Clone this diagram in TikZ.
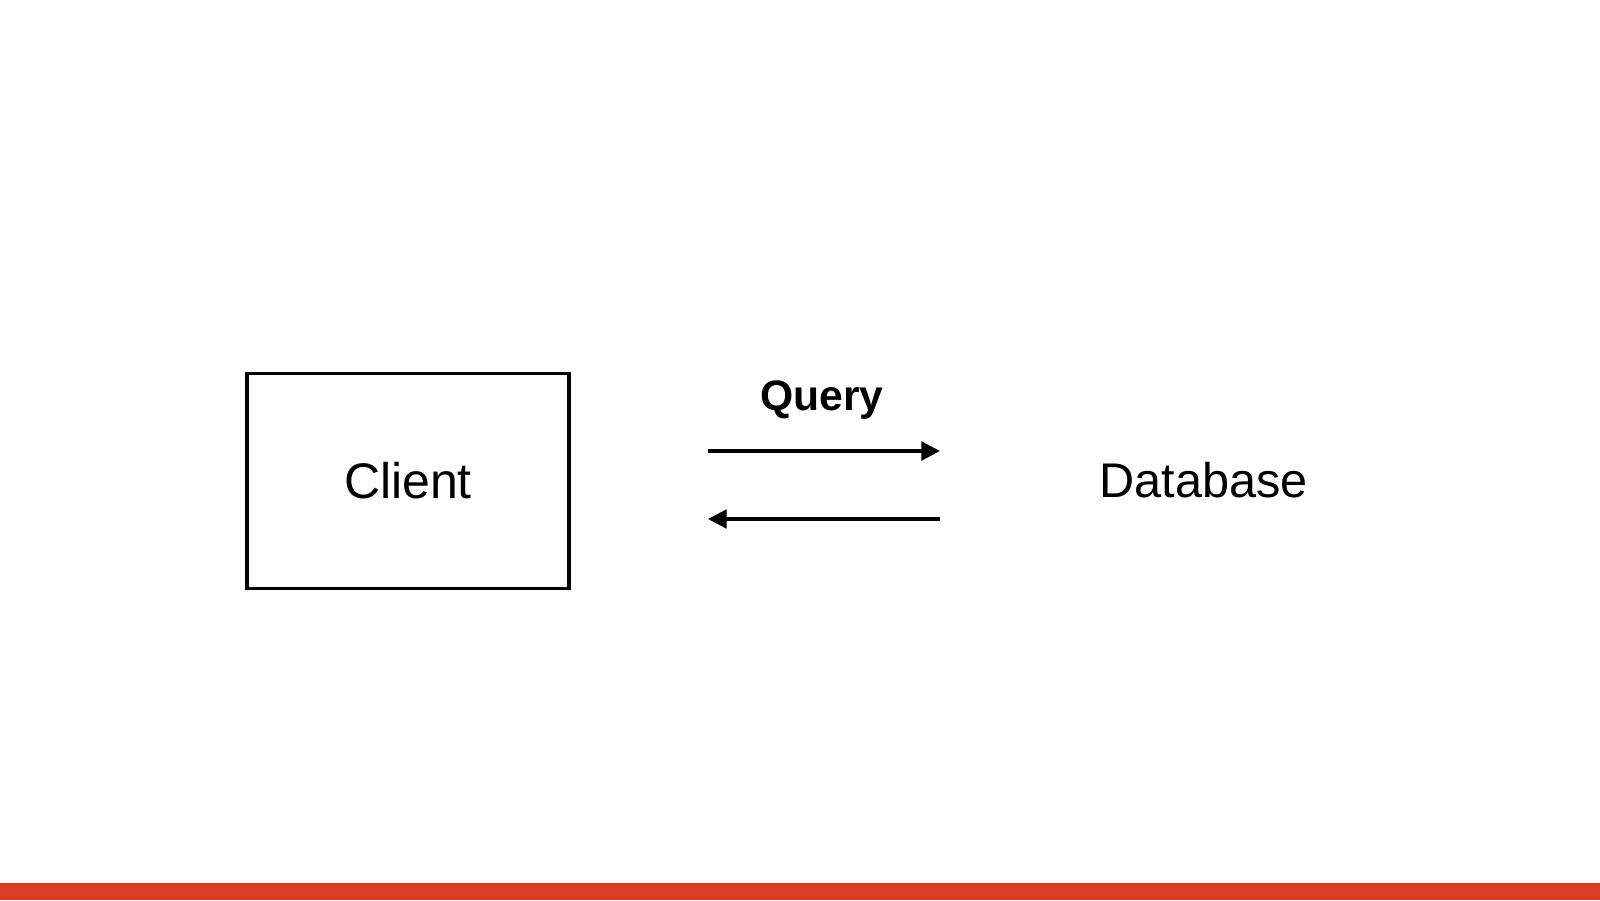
\documentclass[tikz,border=0pt]{standalone}
\usepackage{fontspec}
\setmainfont{Liberation Sans}
\usetikzlibrary{arrows.meta}

\definecolor{barred}{RGB}{219,59,39}
\tikzset{every picture/.style={line width=2.6pt}}
\tikzset{
  msgarrow/.style={-{Triangle[length=14pt,width=14pt]}},
  boxnode/.style={draw, rectangle, minimum width=241.5pt, minimum height=161.25pt, inner sep=0pt},
}

\begin{document}
\begin{tikzpicture}[x=0.75pt,y=0.75pt,yscale=-1]
        \useasboundingbox (0,0) rectangle (1600,900); %set diagram to 1600 x 900

        %Shape: Rectangle [id:bar]
        \fill [barred] (0,883) rectangle (1600,900) ;

        %Shape: Rectangle [id:client]
        \node [boxnode, font=\fontsize{37.5}{45}\selectfont] (client) at (408,481) {Client};

        % Text Node
        \node [anchor=base, inner sep=0pt, font=\fontsize{36.5}{44}\selectfont] (database) at (1203.5,497) {Database};
        % Text Node
        \node [anchor=base, inner sep=0pt, font=\bfseries\fontsize{32}{38}\selectfont] (query) at (822,410) {Query};

        %Straight Lines [id:request]
        \coordinate (reqstart) at (708,451) ;
        \coordinate (reqend) at (940,451) ;
        \draw [msgarrow] (reqstart) -- (reqend) ;
        %Straight Lines [id:reply]
        \coordinate (repstart) at (940,519) ;
        \coordinate (repend) at (708,519) ;
        \draw [msgarrow] (repstart) -- (repend) ;

\end{tikzpicture}
\end{document}
